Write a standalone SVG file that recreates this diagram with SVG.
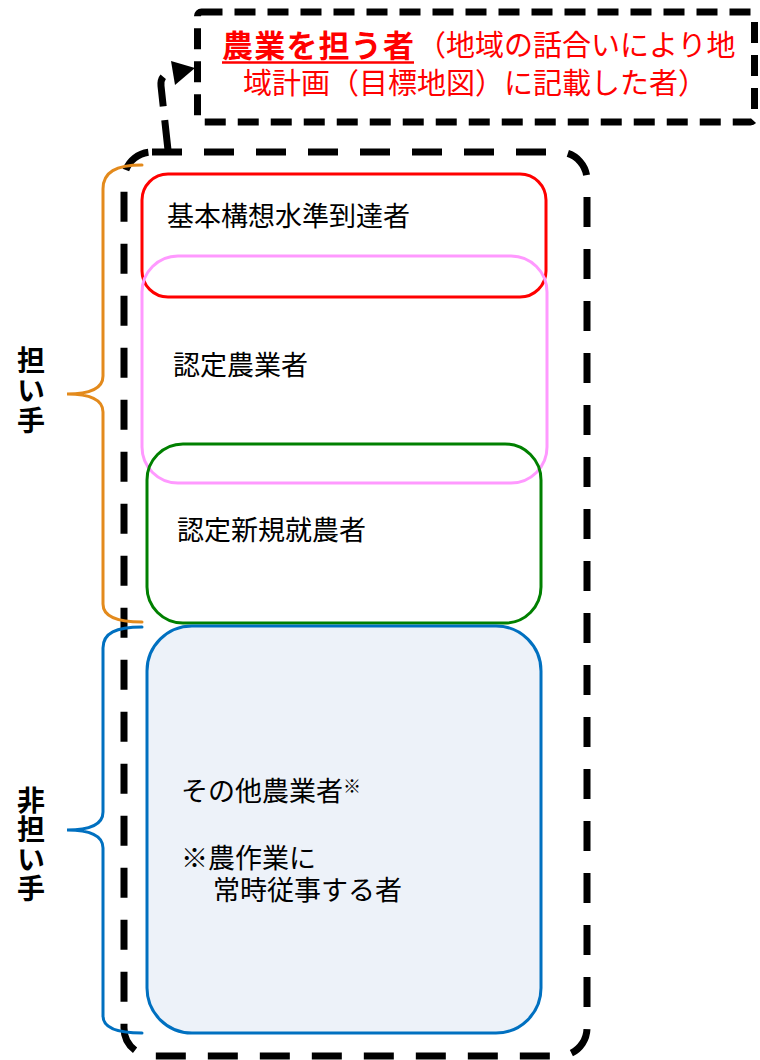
<svg xmlns="http://www.w3.org/2000/svg" width="760" height="1060" viewBox="0 0 760 1060">
<style>
.jp{font-family:"Noto Sans CJK JP","Noto Sans CJK SC",sans-serif;}
.node{font-size:27px;fill:#000;}
.red{fill:#FF0000;}
.box{fill:none;stroke-width:3;}
.dash-big{fill:none;stroke:#000;stroke-width:7;stroke-dasharray:30 22;}
.dash-top{fill:none;stroke:#000;stroke-width:7;stroke-dasharray:21 12;}
.brace{fill:none;stroke-width:3;stroke-linecap:round;}
.lbl{font-size:28px;font-weight:bold;fill:#000;writing-mode:vertical-rl;}
</style>
<rect width="760" height="1060" fill="#fff"/>

<g id="outer-frame">
<rect class="dash-big" x="124" y="152" width="463" height="904" rx="28"/>
</g>

<g id="top-box">
<rect class="dash-top" x="197.5" y="12" width="557" height="110" rx="4"/>
<line x1="222" y1="62.5" x2="414" y2="62.5" stroke="#FF0000" stroke-width="2.5"/>
<text class="jp red" font-size="29"><tspan x="222" y="57" font-size="31" font-weight="bold" letter-spacing="1.2">農業を担う者</tspan><tspan x="417" y="56">（地域の話合いにより地</tspan><tspan x="243" y="94">域計画（目標地図）に記載した者）</tspan></text>
</g>

<g id="node-kihon">
<rect class="box" x="142" y="174" width="404" height="123" rx="26" stroke="#FF0000"/>
<text class="jp node" x="167" y="226">基本構想水準到達者</text>
</g>

<g id="node-nintei">
<rect class="box" x="142" y="256" width="405" height="227" rx="36" stroke="#FF99FF"/>
<text class="jp node" x="173" y="375">認定農業者</text>
</g>

<g id="node-shinki">
<rect class="box" x="147" y="444" width="394" height="179" rx="36" stroke="#008000" stroke-width="3.5"/>
<text class="jp node" x="177" y="540">認定新規就農者</text>
</g>

<g id="node-sonota">
<rect x="147" y="626" width="394" height="407" rx="45" fill="#EDF2F9" stroke="#0070C0" stroke-width="3"/>
<text class="jp node"><tspan x="181" y="801">その他農業者</tspan><tspan font-size="18" dy="-8">※</tspan><tspan x="181" y="868">※農作業に</tspan><tspan x="213" y="900">常時従事する者</tspan></text>
</g>

<g id="brace-ninaite">
<path class="brace" stroke="#E38A1C" d="M142 165 C116 165 103 172 103 189 L103 376 C103 388 92 394 67 394 C92 394 103 400 103 412 L103 604 C103 616 116 622 142 622"/>
<text class="jp lbl" x="31" y="346" letter-spacing="2">担い手</text>
</g>

<g id="brace-hininaite">
<path class="brace" stroke="#0070C0" d="M142 627 C116 627 103 633 103 648 L103 812 C103 824 92 830 67 830 C92 830 103 836 103 848 L103 1016 C103 1027 116 1033 142 1033"/>
<text class="jp lbl" x="31" y="786" letter-spacing="1.5">非担い手</text>
</g>

<g id="connectors">
<path d="M168 150 L161 86 Q160 74 172 73 L176 72.5" fill="none" stroke="#000" stroke-width="7" stroke-dasharray="30 14"/>
<polygon points="171,61 195,68 175,85" fill="#000"/>
</g>
</svg>
